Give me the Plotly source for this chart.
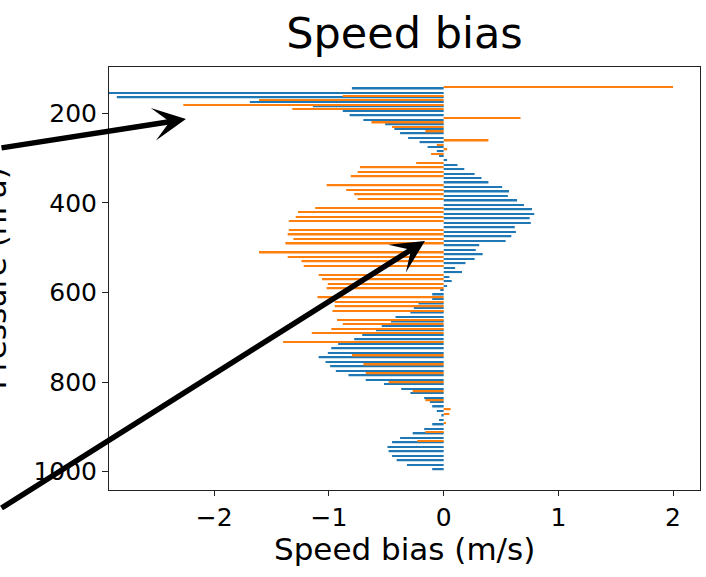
import plotly.graph_objects as go

# Pressure levels (hPa), 10 hPa spacing
levels = list(range(145, 1000, 10))

# Series 1 (blue) speed bias (m/s) at each level
blue_bias = [
    -0.80, -2.95, -2.85, -1.69, -1.14, -0.88, -0.82, -0.70, -0.51, -0.43,   # 145-235
    -0.38, -0.31, -0.21, -0.14, -0.06, -0.04, 0.03, 0.12, 0.18, 0.27,       # 245-335
    0.33, 0.39, 0.51, 0.57, 0.56, 0.64, 0.70, 0.77, 0.79, 0.75,             # 345-435
    0.76, 0.62, 0.63, 0.59, 0.54, 0.31, 0.28, 0.34, 0.27, 0.19,             # 445-535
    0.10, 0.16, 0.05, 0.07, 0.03, -0.03, -0.10, -0.10, -0.22, -0.26,        # 545-635
    -0.29, -0.42, -0.46, -0.54, -0.59, -0.71, -0.78, -0.92, -0.98, -1.01,   # 645-735
    -1.09, -1.03, -0.99, -0.94, -0.83, -0.68, -0.52, -0.37, -0.29, -0.17,   # 745-835
    -0.12, -0.10, -0.06, -0.02, -0.04, -0.10, -0.17, -0.27, -0.38, -0.45,   # 845-935
    -0.49, -0.48, -0.45, -0.41, -0.32, -0.10,                               # 945-995
]

# Series 2 (orange) speed bias (m/s) at each level (None = not visible)
orange_bias = [
    2.00, None, -0.88, -1.61, -2.27, -1.32, None, 0.67, -0.63, -0.45,       # 145-235
    -0.16, None, 0.39, -0.06, 0.03, -0.11, None, -0.24, -0.73, -0.75,       # 245-335
    -0.81, None, -1.02, -0.85, -0.78, -0.75, None, -1.12, -1.27, -1.29,     # 345-435
    -1.35, None, -1.35, -1.36, -1.31, -1.38, None, -1.61, -1.36, -1.24,     # 445-535
    -1.22, None, -1.09, -1.06, -1.01, -1.02, None, -1.10, -0.95, -0.95,     # 545-635
    -0.97, None, -0.93, -0.88, -0.98, -1.15, None, -1.40, None, None,       # 645-735
    -0.80, None, -0.70, None, -0.68, None, -0.48, None, -0.27, None,        # 745-835
    -0.16, None, 0.06, 0.05, None, 0.02, None, -0.16, None, -0.23,          # 845-935
    None, None, None, None, None, None,                                     # 945-995
]

x_tickvals = [-2, -1, 0, 1, 2]
y_tickvals = [200, 400, 600, 800, 1000]

BLUE = "#1f77b4"
ORANGE = "#ff7f0e"
FONT = "DejaVu Sans"
bar_w = 3.4

fig = go.Figure()
fig.add_trace(go.Bar(x=blue_bias, y=levels, orientation="h", width=bar_w,
                     offset=-bar_w / 2, marker=dict(color=BLUE, line=dict(width=0)),
                     name="blue"))
fig.add_trace(go.Bar(x=orange_bias, y=levels, orientation="h", width=bar_w,
                     offset=-4 - bar_w / 2, marker=dict(color=ORANGE, line=dict(width=0)),
                     name="orange"))

fig.update_layout(
    width=706, height=577,
    margin=dict(l=109, r=6, t=67, b=87),
    paper_bgcolor="white", plot_bgcolor="white",
    barmode="overlay", showlegend=False,
    font=dict(family=FONT, color="black"),
    title=dict(text="Speed bias", x=(109 + 700) / 2 / 706, xanchor="center",
               y=1 - 33 / 577, yanchor="middle", yref="container",
               font=dict(family=FONT, size=43, color="black")),
)
fig.update_xaxes(range=[-2.918, 2.235], tickvals=x_tickvals,
                 showgrid=False, zeroline=False, showline=True, linecolor="#222",
                 linewidth=1, mirror=True, ticks="outside", ticklen=5,
                 tickcolor="#222", tickfont=dict(size=25, family=FONT))
fig.update_yaxes(range=[1040.8, 96.7], tickvals=y_tickvals,
                 showgrid=False, zeroline=False, showline=True, linecolor="#222",
                 linewidth=1, mirror=True, ticks="outside", ticklen=6,
                 tickcolor="#222", tickfont=dict(size=25, family=FONT))

# axis titles
fig.add_annotation(text="Speed bias (m/s)", xref="paper", yref="paper",
                   x=0.5, y=(490 - 549) / 423, xanchor="center", yanchor="middle",
                   showarrow=False, font=dict(family=FONT, size=31, color="black"))
fig.add_annotation(text="Pressure (hPa)", xref="paper", yref="paper",
                   x=(-6 - 109) / 591, y=0.5, xanchor="center", yanchor="middle",
                   textangle=-90, showarrow=False,
                   font=dict(family=FONT, size=31, color="black"))

# arrows
arrow_style = dict(showarrow=True, arrowhead=3, arrowsize=1.0, arrowwidth=5.5,
                   arrowcolor="black", text="", xref="x", yref="y", standoff=0)
fig.add_annotation(x=-2.247, y=213, ax=-200, ay=29, **arrow_style)
fig.add_annotation(x=-0.163, y=485, ax=-445, ay=268, **arrow_style)

fig.write_html("out.html")
